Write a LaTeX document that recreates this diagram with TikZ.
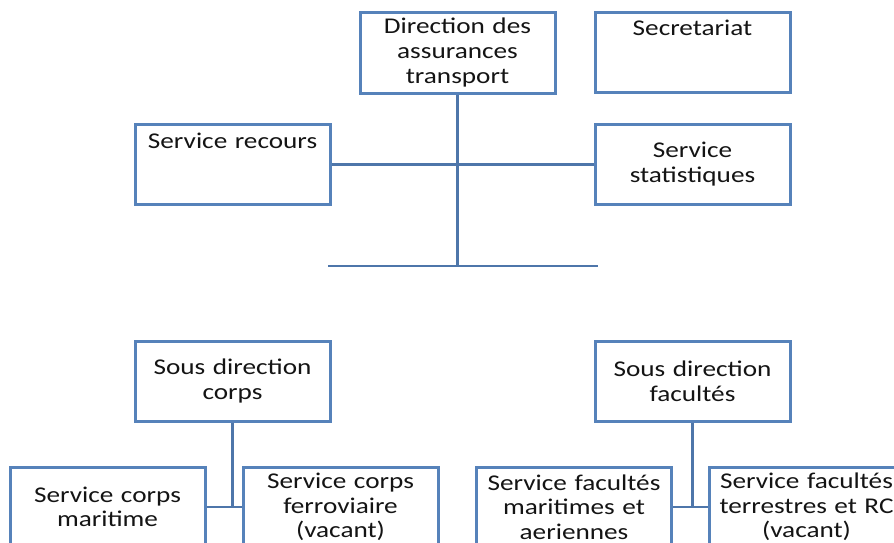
\documentclass[tikz,border=0pt]{standalone}
\usepackage{fontspec}
\setmainfont{Carlito}[FakeStretch=1.21]
\definecolor{boxblue}{RGB}{86,130,186}
\definecolor{lineblue}{RGB}{78,118,170}
\definecolor{txt}{RGB}{20,20,20}
\begin{document}
\begin{tikzpicture}[x=1pt,y=-1pt,
  box/.style={draw=boxblue,line width=3pt,fill=white,inner sep=0pt,
    minimum width=195pt,minimum height=80pt,align=center,text width=192pt,
    text=txt,font=\fontsize{22.5}{25}\selectfont},
  topbox/.style={box,text height=23pt,text depth=56pt},
  lowbox/.style={box,font=\fontsize{22.5}{24.5}\selectfont},
  conn/.style={draw=lineblue,line width=2.5pt}]
\useasboundingbox (0,0) rectangle (894,543);
\clip (0,0) rectangle (894,543);
\fill[white] (0,0) rectangle (894,543);
% top level
\node[box] (dir) at (457.5,53) {Direction des\\assurances\\transport};
\node[topbox] (sec) at (692.5,52.5) {Secretariat};
\node[topbox] (rec) at (232.5,164.5) {Service recours};
\node[box] (stat) at (692.5,164.5) {Service\\statistiques};
\coordinate (bl) at (328,266);
\coordinate (br) at (598,266);
\draw[conn] (rec.east) -- (stat.west);
\draw[conn] (dir.south) -- (dir.south |- bl);
\draw[conn] (bl) -- (br);
% sous direction corps
\node[box] (sdc) at (232.5,381) {Sous direction\\corps};
\node[lowbox] (scm) at (107.5,507) {Service corps\\maritime};
\node[lowbox] (scf) at (340.5,507) {Service corps\\ferroviaire\\(vacant)};
\draw[conn] (sdc.south) -- (sdc.south |- scm.east);
\draw[conn] (scm.east) -- (scf.west);
% sous direction facultes
\node[box] (sdf) at (692.5,381) {Sous direction\\facultés};
\node[lowbox] (sfm) at (574,507) {Service facultés\\maritimes et\\aeriennes};
\node[lowbox] (sft) at (806.5,507) {Service facultés\\terrestres et RC\\(vacant)};
\draw[conn] (sdf.south) -- (sdf.south |- sfm.east);
\draw[conn] (sfm.east) -- (sft.west);
\end{tikzpicture}
\end{document}
